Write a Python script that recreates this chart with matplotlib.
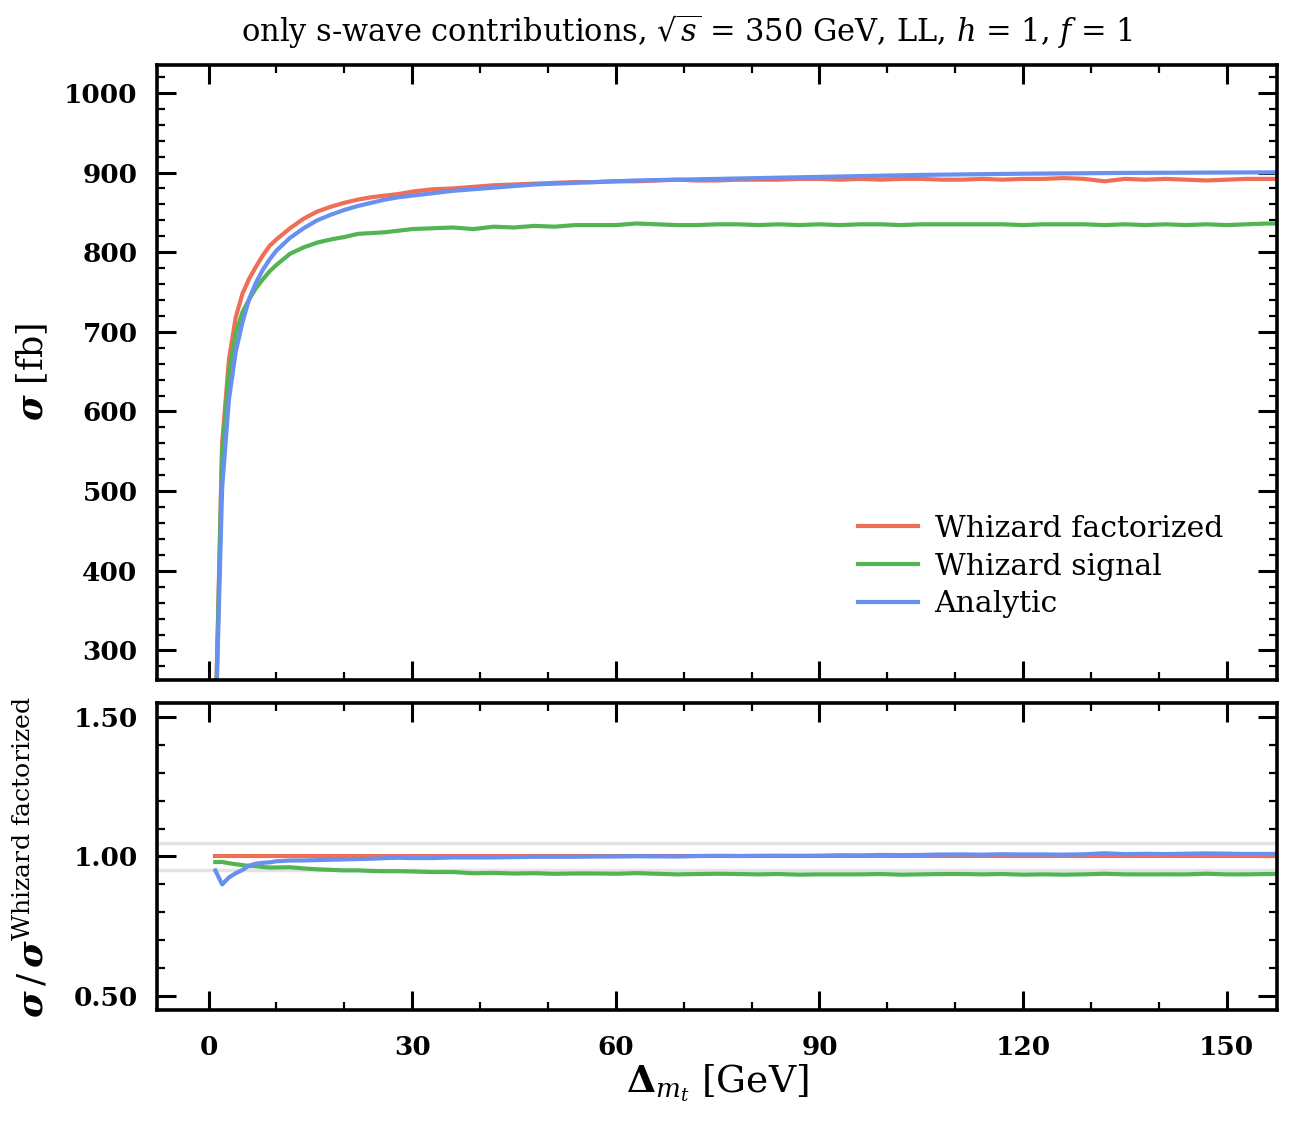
import numpy as np
import matplotlib
matplotlib.use("Agg")
import matplotlib.pyplot as plt

plt.rcParams['font.family'] = ['DejaVu Serif']
plt.rcParams['mathtext.fontset'] = 'dejavuserif'

# Delta_mt grid [GeV]
delta_mt = [1, 2, 3, 4, 5, 6, 7, 8, 9, 10, 12, 14, 16, 18, 20, 22, 24, 26, 28, 30,
            33, 36, 39, 42, 45, 48, 51, 54, 57, 60, 63, 66, 69, 72, 75, 78, 81, 84,
            87, 90, 93, 96, 99, 102, 105, 108, 111, 114, 117, 120, 123, 126, 129,
            132, 135, 138, 141, 144, 147, 150, 153, 156, 159]

sigma_factorized = [200, 560, 665, 718, 748, 767, 782, 796, 808, 816, 830, 842, 851, 857,
                    862, 866, 869, 871, 873, 876, 879, 880, 882, 884, 885, 886, 887, 888,
                    888, 889, 889, 890, 891, 890, 890, 891, 891, 891, 892, 892, 891, 892,
                    891, 892, 892, 891, 891, 892, 891, 892, 892, 893, 892, 889, 892, 891,
                    892, 891, 890, 891, 892, 892, 892]

sigma_signal = [196, 549, 649, 698, 725, 741, 755, 766, 776, 784, 798, 806, 812, 816,
                819, 823, 824, 825, 827, 829, 830, 831, 829, 832, 831, 833, 832, 834,
                834, 834, 836, 835, 834, 834, 835, 835, 834, 835, 834, 835, 834, 835,
                835, 834, 835, 835, 835, 835, 835, 834, 835, 835, 835, 834, 835, 834,
                835, 834, 835, 834, 835, 836, 836]

sigma_analytic = [190, 504, 615, 675, 712, 742, 762, 778, 791, 802, 818, 830, 840, 847,
                  853, 858, 862, 866, 869, 871, 874, 877, 879, 881, 883, 885, 886, 887,
                  888, 889, 890, 890.5, 891, 891.5, 892, 892.5, 893, 893.5, 894, 894.5,
                  895, 895.5, 896, 896.5, 897, 897.3, 897.6, 897.9, 898.2, 898.5, 898.7,
                  898.9, 899.1, 899.3, 899.5, 899.6, 899.7, 899.8, 899.9, 900.0, 900.1,
                  900.2, 900.3]

labels = ['Whizard factorized', 'Whizard signal', 'Analytic']
colors = ['#F06E56', '#52B452', '#6790F0']

x = np.array(delta_mt)
ref = np.array(sigma_factorized, dtype=float)
series = [np.array(sigma_factorized, dtype=float),
          np.array(sigma_signal, dtype=float),
          np.array(sigma_analytic, dtype=float)]

fig = plt.figure(figsize=(12.93, 11.28), dpi=100)
ax1 = fig.add_axes([0.1214, 0.3972, 0.8662, 0.5452])
ax2 = fig.add_axes([0.1214, 0.1046, 0.8662, 0.2722], sharex=ax1)

for y, lab, c in zip(series, labels, colors):
    ax1.plot(x, y, color=c, lw=3.0, label=lab)

ax2.axhline(1.05, color='#e3e3e3', lw=2.5, zorder=0)
ax2.axhline(0.95, color='#e3e3e3', lw=2.5, zorder=0)
for y, c in zip(series, colors):
    ax2.plot(x, y / ref, color=c, lw=3.0)

ax1.set_xlim(-7.6, 157.4)
ax1.set_ylim(263, 1035)
ax2.set_ylim(0.45, 1.55)

ax1.set_yticks([300, 400, 500, 600, 700, 800, 900, 1000])
ax1.set_yticks(np.arange(280, 1040, 20), minor=True)
ax2.set_xticks([0, 30, 60, 90, 120, 150])
ax2.set_xticks(np.arange(0, 160, 10), minor=True)
ax2.set_yticks([0.5, 1.0, 1.5])
ax2.set_yticks(np.arange(0.5, 1.55, 0.1), minor=True)
ax2.set_yticklabels(['0.50', '1.00', '1.50'])

for ax in (ax1, ax2):
    ax.tick_params(which='both', direction='in', top=True, right=True)
    ax.tick_params(which='major', length=14, width=2.2, labelsize=19)
    ax.tick_params(which='minor', length=6, width=1.6)
    ax.tick_params(axis='y', which='major', pad=14)
    ax.tick_params(axis='x', which='major', pad=18)
    for sp in ax.spines.values():
        sp.set_linewidth(2.6)
    for t in ax.get_xticklabels() + ax.get_yticklabels():
        t.set_fontweight('bold')

ax1.tick_params(labelbottom=False)

ax1.set_ylabel(r'$\boldsymbol{\sigma}$ [fb]', fontsize=25)
ax1.yaxis.set_label_coords(-0.095, 0.5)
ax2.set_ylabel(r'$\boldsymbol{\sigma}\,/\,\boldsymbol{\sigma}^{\mathrm{Whizard\ factorized}}$',
               fontsize=26)
ax2.yaxis.set_label_coords(-0.095, 0.5)
ax2.set_xlabel(r'$\boldsymbol{\Delta}_{m_t}$ [GeV]', fontsize=27, labelpad=2)

fig.text(0.531, 0.972, r'only s-wave contributions, $\sqrt{s}$ = 350 GeV, LL, $h$ = 1, $f$ = 1',
         ha='center', va='center', fontsize=22)

ax1.legend(loc='upper left', bbox_to_anchor=(0.613, 0.293), frameon=False, fontsize=21.5,
           handlelength=2.0, handletextpad=0.55, labelspacing=0.33, borderpad=0)

fig.savefig('out.png', dpi=100)
